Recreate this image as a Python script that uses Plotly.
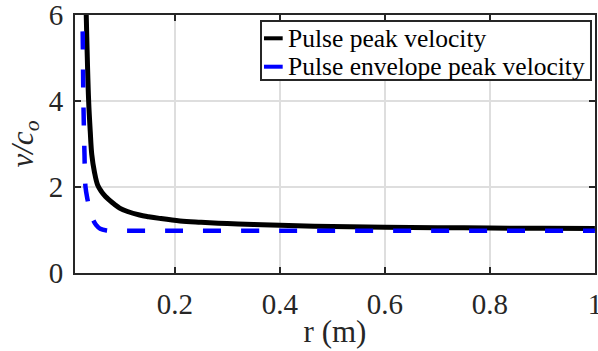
import plotly.graph_objects as go

# Pulse peak velocity (black solid)
r_peak = [0.030, 0.031, 0.033, 0.036, 0.039, 0.042, 0.047, 0.053, 0.060, 0.068,
          0.076, 0.085, 0.095, 0.110, 0.133, 0.150, 0.171, 0.210, 0.250, 0.300,
          0.350, 0.400, 0.500, 0.600, 0.700, 0.800, 0.900, 1.000]
v_peak = [6.5, 6.2, 5.2, 4.0, 3.3, 2.75, 2.35, 2.05, 1.90, 1.78,
          1.69, 1.60, 1.51, 1.43, 1.35, 1.31, 1.27, 1.21, 1.18, 1.15,
          1.13, 1.11, 1.08, 1.065, 1.055, 1.045, 1.038, 1.032]

# Pulse envelope peak velocity (blue dashed)
r_env = [0.022, 0.024, 0.026, 0.028, 0.030, 0.034, 0.038, 0.044, 0.050, 0.058,
         0.070, 0.085, 0.100, 0.200, 0.400, 0.600, 0.800, 1.000]
v_env = [6.5, 6.0, 4.0, 2.8, 2.0, 1.70, 1.47, 1.25, 1.12, 1.03,
         0.99, 0.98, 0.98, 0.98, 0.98, 0.98, 0.98, 0.98]

series_names = ["Pulse peak velocity", "Pulse envelope peak velocity"]
series_colors = ["black", "#0000ff"]

x_ticks = [0.2, 0.4, 0.6, 0.8, 1]
x_ticklabels = ["0.2", "0.4", "0.6", "0.8", "1"]
y_ticks = [0, 2, 4, 6]
y_ticklabels = ["0", "2", "4", "6"]

FONT = "Times New Roman, Liberation Serif, serif"
AX = "#262626"

fig = go.Figure()
fig.add_trace(go.Scatter(x=r_peak, y=v_peak, mode="lines",
                         name=series_names[0], showlegend=False,
                         line=dict(color=series_colors[0], width=5, shape="spline")))
fig.add_trace(go.Scatter(x=r_env, y=v_env, mode="lines",
                         name=series_names[1], showlegend=False,
                         line=dict(color=series_colors[1], width=4.5, dash="18px,20px", shape="spline")))

axis_common = dict(showline=True, linecolor=AX, linewidth=2, mirror="ticks",
                   ticks="inside", ticklen=6, tickwidth=2, tickcolor=AX,
                   showgrid=True, gridcolor="#dedede", gridwidth=1.5,
                   zeroline=False, ticklabeloverflow="allow", automargin=False,
                   tickfont=dict(family=FONT, size=29, color=AX))

# Legend drawn as a boxed overlay in paper coordinates
shapes = [dict(type="rect", xref="paper", yref="paper",
               x0=0.3577, x1=0.9923, y0=0.748, y1=0.9767,
               line=dict(color=AX, width=2), fillcolor="white", layer="above")]
annotations = []
row_y = [0.9097, 0.7996]
for name, col, yy in zip(series_names, series_colors, row_y):
    shapes.append(dict(type="line", xref="paper", yref="paper",
                       x0=0.3635, x1=0.3994, y0=yy, y1=yy,
                       line=dict(color=col, width=4), layer="above"))
    annotations.append(dict(xref="paper", yref="paper", x=0.4050, y=yy,
                            xanchor="left", yanchor="middle", showarrow=False,
                            text=name, font=dict(family=FONT, size=25.5, color="black")))

fig.update_layout(
    width=598, height=351,
    margin=dict(l=75, r=3, t=15, b=78),
    paper_bgcolor="white", plot_bgcolor="white",
    xaxis=dict(range=[0.01, 1.0002], tickvals=x_ticks, ticktext=x_ticklabels,
               ticklabelstandoff=4,
               title=dict(text="r (m)", font=dict(family=FONT, size=31, color=AX), standoff=2),
               **axis_common),
    yaxis=dict(range=[0, 6], tickvals=y_ticks, ticktext=y_ticklabels,
               ticklabelstandoff=4,
               title=dict(text="<i>v/c</i><sub><i>o</i></sub>", font=dict(family=FONT, size=31, color=AX), standoff=6),
               **axis_common),
    shapes=shapes,
    annotations=annotations,
    showlegend=False,
)

fig.write_html("out.html")
